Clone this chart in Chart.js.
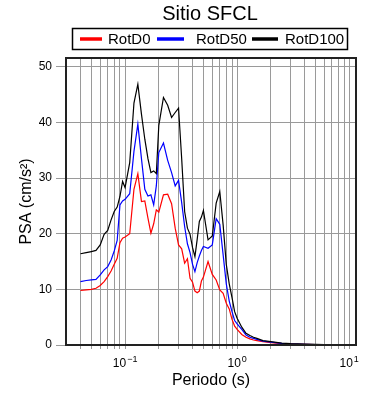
<!DOCTYPE html>
<html>
<head>
<meta charset="utf-8">
<script src="https://cdn.jsdelivr.net/npm/chart.js@4/dist/chart.umd.min.js"></script>
<style>
  html, body { margin: 0; padding: 0; background: #fff; }
  #wrap { width: 390px; height: 400px; }
</style>
</head>
<body>
<div id="wrap"><canvas id="Chart" width="390" height="400"></canvas></div>
<script>
// Periodos (s)
const periods = [0.04, 0.045, 0.05, 0.055, 0.06, 0.065, 0.07, 0.075, 0.08, 0.085, 0.09, 0.095,
    0.1, 0.11, 0.12, 0.13, 0.14, 0.15, 0.16, 0.17, 0.18, 0.19, 0.2, 0.22, 0.24, 0.26, 0.28, 0.3,
    0.32, 0.34, 0.36, 0.38, 0.4, 0.42, 0.44, 0.46, 0.48, 0.5, 0.55, 0.6, 0.65, 0.7, 0.75, 0.8,
    0.85, 0.9, 0.95, 1.0, 1.1, 1.2, 1.3, 1.4, 1.5, 1.7, 2.0, 2.5, 3.0, 4.0, 5.0, 6.0, 7.5, 10];

const rotD0 = [9.8, 9.9, 10.0, 10.2, 10.7, 11.4, 12.3, 13.3, 14.5, 15.6, 18.4, 19.2,
    19.4, 20.0, 28.0, 30.8, 25.8, 25.9, 22.8, 20.1, 21.8, 24.3, 23.9, 27.0, 27.1, 25.4, 21.0, 18.0,
    17.3, 14.7, 15.5, 12.0, 11.3, 9.7, 9.4, 9.7, 11.5, 12.2, 15.0, 12.7, 11.7, 9.9, 9.3, 7.5,
    6.5, 4.6, 3.4, 2.8, 1.9, 1.4, 1.1, 0.9, 0.8, 0.6, 0.4, 0.25, 0.18, 0.1, 0.07, 0.05, 0.03, 0.02];

const rotD50 = [11.4, 11.6, 11.7, 11.8, 12.6, 13.5, 14.1, 15.3, 16.9, 18.8, 25.2, 25.9,
    26.2, 27.2, 34.8, 39.7, 33.5, 28.0, 26.8, 27.0, 25.2, 28.6, 34.6, 36.3, 33.2, 31.0, 28.6, 29.6,
    25.6, 21.3, 18.2, 16.6, 14.5, 13.2, 14.8, 16.0, 17.0, 17.7, 17.4, 18.0, 22.7, 21.7, 16.2, 11.0,
    7.9, 6.0, 4.4, 3.8, 2.8, 1.8, 1.4, 1.2, 1.0, 0.7, 0.5, 0.3, 0.2, 0.12, 0.08, 0.06, 0.04, 0.03];

const rotD100 = [16.4, 16.6, 16.8, 17.0, 18.0, 19.9, 20.6, 22.5, 24.0, 24.8, 26.7, 29.4,
    28.3, 32.8, 43.5, 46.9, 41.5, 37.0, 33.5, 31.0, 31.3, 30.8, 39.5, 44.5, 43.1, 40.9, 41.8, 42.6,
    33.5, 24.0, 21.0, 19.9, 17.5, 15.9, 19.0, 22.2, 23.0, 24.2, 18.9, 19.6, 25.5, 27.6, 21.6, 14.5,
    11.0, 8.5, 6.0, 4.8, 3.2, 2.1, 1.7, 1.4, 1.2, 0.8, 0.6, 0.35, 0.25, 0.15, 0.1, 0.08, 0.05, 0.03];

// ejes
const xGrid = [0.04, 0.05, 0.06, 0.07, 0.08, 0.09, 0.1, 0.2, 0.3, 0.4, 0.5, 0.6, 0.7, 0.8, 0.9,
    1, 2, 3, 4, 5, 6, 7, 8, 9, 10];
const xMajor = [0.1, 1, 10];
const xMajorExp = ["\u22121", "0", "1"];  // 10^exp
const yTicks = [0, 10, 20, 30, 40, 50];

const seriesNames = ["RotD0", "RotD50", "RotD100"];
const seriesColors = ["#ff0000", "#0000ff", "#000000"];

const FONT = "'Liberation Sans', Arial, Helvetica, sans-serif";

function toPoints(vals) {
    return periods.map(function (p, i) { return { x: p, y: vals[i] }; });
}

// titulo, leyenda, marco y etiquetas 10^n
const decorPlugin = {
    id: "decor",
    afterDraw: function (chart) {
        const ctx = chart.ctx;
        const a = chart.chartArea;
        const xs = chart.scales.x;
        ctx.save();
        // marco
        ctx.strokeStyle = "#222";
        ctx.lineWidth = 2;
        ctx.strokeRect(a.left, a.top, a.right - a.left, a.bottom - a.top);

        // etiquetas del eje x con exponente
        ctx.fillStyle = "#000";
        ctx.textBaseline = "alphabetic";
        ctx.textAlign = "left";
        xMajor.forEach(function (v, i) {
            ctx.font = "12px " + FONT;
            const wBase = ctx.measureText("10").width;
            ctx.font = "9px " + FONT;
            const wExp = ctx.measureText(xMajorExp[i]).width;
            const x0 = xs.getPixelForValue(v) - (wBase + 1 + wExp) / 2;
            ctx.font = "12px " + FONT;
            ctx.fillText("10", x0, 367);
            ctx.font = "9px " + FONT;
            ctx.fillText(xMajorExp[i], x0 + wBase + 1, 362);
        });

        // titulo
        ctx.font = "20px " + FONT;
        ctx.textAlign = "center";
        ctx.textBaseline = "middle";
        ctx.fillText("Sitio SFCL", 210, 14);

        // leyenda
        ctx.lineWidth = 1.5;
        ctx.strokeStyle = "#000";
        ctx.strokeRect(72.5, 28.5, 275, 21);
        const lineX = [80, 157, 252];
        const lineW = [22, 27, 26];
        const textX = [108, 196, 285];
        ctx.font = "15px " + FONT;
        ctx.textAlign = "left";
        for (let i = 0; i < 3; i++) {
            ctx.strokeStyle = seriesColors[i];
            ctx.lineWidth = 3.5;
            ctx.beginPath();
            ctx.moveTo(lineX[i], 39);
            ctx.lineTo(lineX[i] + lineW[i], 39);
            ctx.stroke();
            ctx.fillStyle = "#000";
            ctx.fillText(seriesNames[i], textX[i], 39.5);
        }
        ctx.restore();
    },
};

var ctx = document.getElementById("Chart").getContext("2d");

var chart = new Chart(ctx, {
    type: "line",
    data: {
        datasets: seriesNames.map(function (name, i) {
            return {
                label: name,
                data: toPoints([rotD0, rotD50, rotD100][i]),
                borderColor: seriesColors[i],
                borderWidth: 1.2,
                pointRadius: 0,
                tension: 0,
                fill: false,
                order: 2 - i,
            };
        }),
    },
    options: {
        responsive: false,
        animation: false,
        layout: {
            padding: { top: 58, right: 34, left: 0, bottom: 0 },
        },
        scales: {
            x: {
                type: "logarithmic",
                min: 0.0297,
                max: 11.5,
                afterBuildTicks: function (axis) {
                    axis.ticks = xGrid.map(function (v) { return { value: v }; });
                },
                afterFit: function (axis) {
                    axis.height = 55;
                },
                ticks: {
                    autoSkip: false,
                    maxRotation: 0,
                    padding: 5,
                    font: { family: FONT, size: 12 },
                    callback: function () { return ""; },
                },
                grid: {
                    color: "#9a9a9a",
                    lineWidth: 1,
                    tickLength: 4,
                    tickColor: "#9a9a9a",
                },
                border: { color: "#222", width: 2 },
                title: {
                    display: true,
                    text: "Periodo (s)",
                    color: "#000",
                    font: { family: FONT, size: 16 },
                    padding: { top: 0, bottom: 10 },
                },
            },
            y: {
                type: "linear",
                min: 0,
                max: 51.6,
                afterBuildTicks: function (axis) {
                    axis.ticks = yTicks.map(function (v) { return { value: v }; });
                },
                afterFit: function (axis) {
                    axis.width = 66;
                },
                ticks: {
                    padding: 4,
                    color: "#000",
                    font: { family: FONT, size: 12 },
                },
                grid: {
                    color: "#9a9a9a",
                    lineWidth: 1,
                    tickLength: 10,
                    tickColor: "#9a9a9a",
                },
                border: { color: "#222", width: 2 },
                title: {
                    display: true,
                    text: "PSA (cm/s\u00B2)",
                    color: "#000",
                    font: { family: FONT, size: 16 },
                    padding: { top: 17, bottom: 0 },
                },
            },
        },
        plugins: {
            legend: { display: false },
            title: { display: false },
            tooltip: { enabled: false },
        },
    },
    plugins: [decorPlugin],
});
</script>
</body>
</html>
